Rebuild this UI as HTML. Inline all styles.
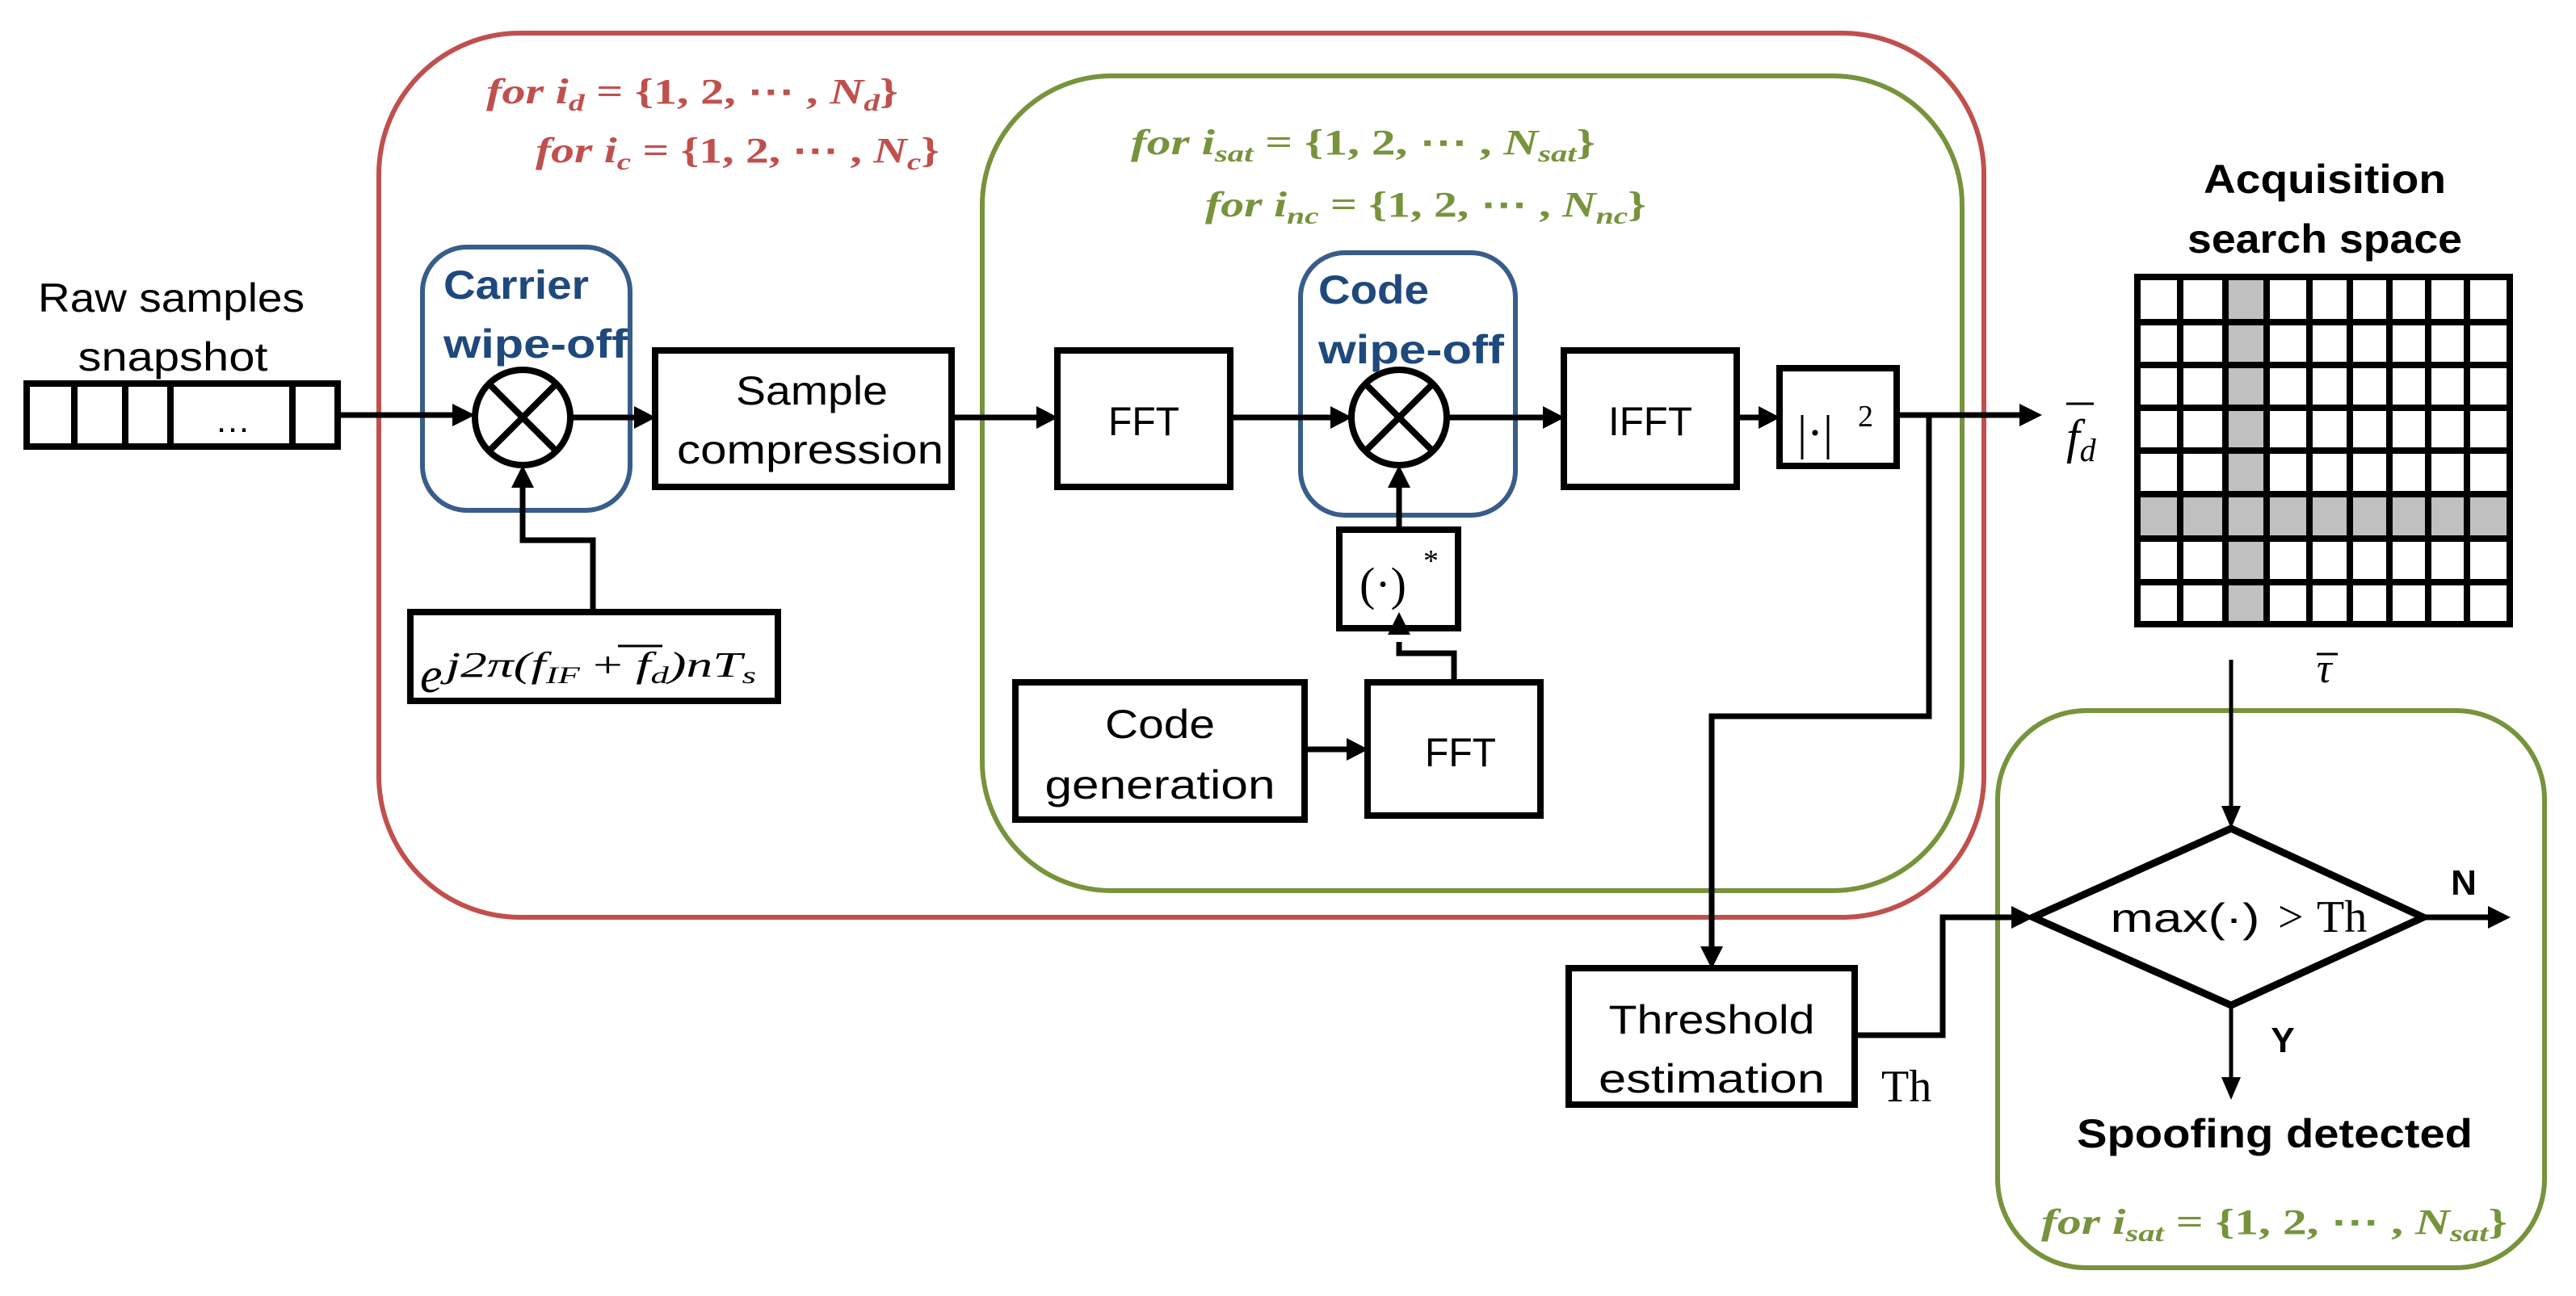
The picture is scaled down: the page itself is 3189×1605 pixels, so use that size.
<!DOCTYPE html>
<html><head><meta charset="utf-8"><style>
html,body{margin:0;padding:0;background:#fff;width:3189px;height:1605px;overflow:hidden}
svg{display:block}
.s{font-family:"Liberation Sans",sans-serif}
.m{font-family:"Liberation Serif",serif;font-style:italic}
</style></head><body>
<svg width="3189" height="1605" viewBox="0 0 3189 1605" xmlns="http://www.w3.org/2000/svg">
<g fill="none">
<rect x="469" y="41" width="1987" height="1095" rx="175" ry="175" stroke="#C0504D" stroke-width="6"/>
<rect x="1216" y="94" width="1213" height="1009" rx="160" ry="160" stroke="#77933C" stroke-width="6"/>
<rect x="2473" y="880" width="677" height="690" rx="110" ry="110" stroke="#77933C" stroke-width="6"/>
<rect x="523" y="306" width="257" height="326" rx="55" ry="55" stroke="#385D8A" stroke-width="6"/>
<rect x="1610" y="313" width="266" height="325" rx="55" ry="55" stroke="#385D8A" stroke-width="6"/>
</g>
<g fill="none" stroke="#000" stroke-width="8">
<rect x="33" y="475" width="385" height="78"/>
<line x1="92" y1="475" x2="92" y2="553"/><line x1="155" y1="475" x2="155" y2="553"/>
<line x1="211" y1="475" x2="211" y2="553"/><line x1="362" y1="475" x2="362" y2="553"/>
<circle cx="647" cy="517" r="59"/>
<line x1="605" y1="475" x2="689" y2="559"/><line x1="689" y1="475" x2="605" y2="559"/>
<circle cx="1732" cy="517" r="59"/>
<line x1="1690" y1="475" x2="1774" y2="559"/><line x1="1774" y1="475" x2="1690" y2="559"/>
<rect x="811" y="434" width="367" height="169"/>
<rect x="1309" y="434" width="214" height="169"/>
<rect x="508" y="758" width="455" height="110"/>
<rect x="1936" y="434" width="214" height="169"/>
<rect x="2203" y="456" width="145" height="121"/>
<rect x="1658" y="656" width="147" height="122"/>
<rect x="1693" y="845" width="214" height="165"/>
<rect x="1257" y="845" width="358" height="170"/>
<rect x="1942" y="1199" width="354" height="169"/>
<polygon points="2762,1026 3000,1136 2762,1245 2517,1136" stroke-width="9"/>
</g>
<g fill="none" stroke="#000" stroke-width="7">
<path d="M418,514 L570,514"/>
<path d="M706,517 L795,517"/>
<path d="M1178,517 L1293,517"/>
<path d="M1523,517 L1657,517"/>
<path d="M1791,517 L1920,517"/>
<path d="M2150,517 L2187,517"/>
<path d="M734,758 L734,669 L647,669 L647,600"/>
<path d="M1732,656 L1732,600"/>
<path d="M1800,845 L1800,809 L1732,809 L1732,795"/>
<path d="M1615,928 L1677,928"/>
<path d="M2348,514 L2505,514"/>
<path d="M2388,514 L2388,887 L2119,887 L2119,1180"/>
<path d="M2296,1282 L2405,1282 L2405,1136 L2500,1136"/>
<path d="M2762,817 L2762,1005" stroke-width="5"/>
<path d="M3000,1136 L3085,1136"/>
<path d="M2762,1245 L2762,1340" stroke-width="5"/>
</g>
<g fill="#000">
<polygon points="560,500 588,514 560,528"/>
<polygon points="785,503 812,517 785,531"/>
<polygon points="1283,503 1310,517 1283,531"/>
<polygon points="1647,503 1674,517 1647,531"/>
<polygon points="1910,503 1937,517 1910,531"/>
<polygon points="2177,503 2204,517 2177,531"/>
<polygon points="2500,500 2528,514 2500,528"/>
<polygon points="633,604 647,576 661,604"/>
<polygon points="1718,604 1732,576 1746,604"/>
<polygon points="1718,786 1732,758 1746,786"/>
<polygon points="1667,914 1694,928 1667,942"/>
<polygon points="2105,1172 2119,1200 2133,1172"/>
<polygon points="2490,1122 2518,1136 2490,1150"/>
<polygon points="2750,998 2762,1026 2774,998"/>
<polygon points="3080,1122 3108,1136 3080,1150"/>
<polygon points="2750,1334 2762,1362 2774,1334"/>
</g>
<rect x="2755" y="343" width="51" height="430" fill="#C0C0C0"/>
<rect x="2646" y="612" width="461" height="55" fill="#C0C0C0"/>
<g stroke="#000" stroke-width="8" fill="none">
<rect x="2646" y="343" width="461" height="430"/>
<path d="M2699,343V773M2755,343V773M2806,343V773M2859,343V773M2909,343V773M2958,343V773M3006,343V773M3054,343V773"/>
<path d="M2646,399H3107M2646,452H3107M2646,505H3107M2646,558H3107M2646,612H3107M2646,667H3107M2646,721H3107"/>
</g>
<g class="s" font-size="50" fill="#000" text-anchor="middle">
<text x="212" y="386" textLength="330" lengthAdjust="spacingAndGlyphs">Raw samples</text>
<text x="214" y="459" textLength="235" lengthAdjust="spacingAndGlyphs">snapshot</text>
<text x="288" y="535" font-size="44">…</text>
<text x="1005" y="501" textLength="188" lengthAdjust="spacingAndGlyphs">Sample</text>
<text x="1003" y="574" textLength="330" lengthAdjust="spacingAndGlyphs">compression</text>
<text x="1416" y="539" textLength="88" lengthAdjust="spacingAndGlyphs">FFT</text>
<text x="2043" y="539" textLength="104" lengthAdjust="spacingAndGlyphs">IFFT</text>
<text x="1808" y="949" textLength="88" lengthAdjust="spacingAndGlyphs">FFT</text>
<text x="1436" y="914" textLength="136" lengthAdjust="spacingAndGlyphs">Code</text>
<text x="1436" y="989" textLength="285" lengthAdjust="spacingAndGlyphs">generation</text>
<text x="2119" y="1280" textLength="255" lengthAdjust="spacingAndGlyphs">Threshold</text>
<text x="2119" y="1353" textLength="280" lengthAdjust="spacingAndGlyphs">estimation</text>
<text x="2705" y="1154" textLength="185" lengthAdjust="spacingAndGlyphs">max(·)</text>
</g>
<g font-family="Liberation Serif,serif" font-size="56" fill="#000">
<text x="2820" y="1154">&gt;</text>
<text x="2868" y="1154">Th</text>
<text x="2329" y="1364">Th</text>
<text x="2225" y="556" font-size="60">|·|</text>
<text x="2300" y="528" font-size="38">2</text>
<text x="1683" y="743" font-size="58">(·)</text>
<text x="1762" y="707" font-size="38">*</text>
</g>
<g class="s" font-weight="bold" fill="#000" text-anchor="middle" font-size="50">
<text x="2878" y="239" textLength="300" lengthAdjust="spacingAndGlyphs">Acquisition</text>
<text x="2878" y="313" textLength="340" lengthAdjust="spacingAndGlyphs">search space</text>
<text x="2816" y="1421" textLength="490" lengthAdjust="spacingAndGlyphs">Spoofing detected</text>
<text x="3050" y="1108" font-size="44">N</text>
<text x="2826" y="1303" font-size="44">Y</text>
</g>
<g class="s" font-weight="bold" fill="#1F497D" font-size="50">
<text x="549" y="370" textLength="180" lengthAdjust="spacingAndGlyphs">Carrier</text>
<text x="549" y="443" textLength="228" lengthAdjust="spacingAndGlyphs">wipe-off</text>
<text x="1632" y="376" textLength="137" lengthAdjust="spacingAndGlyphs">Code</text>
<text x="1632" y="450" textLength="230" lengthAdjust="spacingAndGlyphs">wipe-off</text>
</g>
<g class="m" fill="#000">
<text x="2558" y="561" font-size="60">f<tspan font-size="40" dy="10">d</tspan></text>
<line x1="2558" y1="500" x2="2592" y2="500" stroke="#000" stroke-width="3"/>
<text x="2868" y="845" font-size="52">τ</text>
<line x1="2868" y1="810" x2="2894" y2="810" stroke="#000" stroke-width="3"/>
<text x="520" y="857" font-size="62">e</text>
<text x="552" y="838" font-size="44" textLength="384" lengthAdjust="spacingAndGlyphs">j2π(f<tspan font-size="30" dy="8">IF</tspan><tspan dy="-8" font-style="normal"> + </tspan>f<tspan font-size="30" dy="8">d</tspan><tspan dy="-8">)nT</tspan><tspan font-size="30" dy="8">s</tspan></text>
<line x1="765" y1="800" x2="820" y2="800" stroke="#000" stroke-width="3"/>
</g>
<g class="m" font-weight="bold" font-size="44">
<text x="602" y="128" fill="#C0504D" textLength="510" lengthAdjust="spacingAndGlyphs">for i<tspan font-size="30" dy="9">d</tspan><tspan dy="-9" font-style="normal"> = {1, 2, ⋯ , </tspan>N<tspan font-size="30" dy="9">d</tspan><tspan dy="-9" font-style="normal">}</tspan></text>
<text x="663" y="201" fill="#C0504D" textLength="500" lengthAdjust="spacingAndGlyphs">for i<tspan font-size="30" dy="9">c</tspan><tspan dy="-9" font-style="normal"> = {1, 2, ⋯ , </tspan>N<tspan font-size="30" dy="9">c</tspan><tspan dy="-9" font-style="normal">}</tspan></text>
<text x="1400" y="191" fill="#77933C" textLength="575" lengthAdjust="spacingAndGlyphs">for i<tspan font-size="30" dy="9">sat</tspan><tspan dy="-9" font-style="normal"> = {1, 2, ⋯ , </tspan>N<tspan font-size="30" dy="9">sat</tspan><tspan dy="-9" font-style="normal">}</tspan></text>
<text x="1492" y="268" fill="#77933C" textLength="546" lengthAdjust="spacingAndGlyphs">for i<tspan font-size="30" dy="9">nc</tspan><tspan dy="-9" font-style="normal"> = {1, 2, ⋯ , </tspan>N<tspan font-size="30" dy="9">nc</tspan><tspan dy="-9" font-style="normal">}</tspan></text>
<text x="2527" y="1528" fill="#77933C" textLength="577" lengthAdjust="spacingAndGlyphs">for i<tspan font-size="30" dy="9">sat</tspan><tspan dy="-9" font-style="normal"> = {1, 2, ⋯ , </tspan>N<tspan font-size="30" dy="9">sat</tspan><tspan dy="-9" font-style="normal">}</tspan></text>
</g>
</svg>
</body></html>
